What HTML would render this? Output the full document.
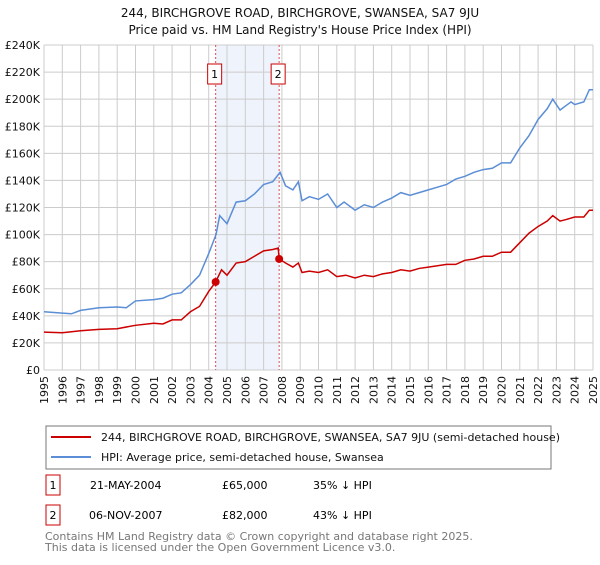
<!DOCTYPE html>
<html><head><meta charset="utf-8"><style>
body{margin:0;background:#fff;font-family:"Liberation Sans","DejaVu Sans",sans-serif;}
svg text{font-family:"DejaVu Sans","Liberation Sans",sans-serif;}
</style></head><body>
<svg id="chart" width="600" height="560" viewBox="0 0 600 560">
<text x="300" y="17" text-anchor="middle" font-size="12" fill="#111">244, BIRCHGROVE ROAD, BIRCHGROVE, SWANSEA, SA7 9JU</text>
<text x="300" y="34" text-anchor="middle" font-size="12" fill="#111">Price paid vs. HM Land Registry's House Price Index (HPI)</text>
<g id="grid"></g><g id="marks"></g><g id="axes"></g>
<rect x="46" y="426" width="505" height="43" fill="none" stroke="#777"/>
<line x1="51" y1="437" x2="91" y2="437" stroke="#cc0000" stroke-width="2"/>
<text x="101" y="441" font-size="11" fill="#111">244, BIRCHGROVE ROAD, BIRCHGROVE, SWANSEA, SA7 9JU (semi-detached house)</text>
<line x1="51" y1="457" x2="91" y2="457" stroke="#5b8ed6" stroke-width="2"/>
<text x="101" y="461" font-size="11" fill="#111">HPI: Average price, semi-detached house, Swansea</text>
<rect x="46" y="475" width="14" height="20" fill="none" stroke="#cc0000"/>
<text x="53" y="489" font-size="11" text-anchor="middle">1</text>
<text x="90" y="489" font-size="11">21-MAY-2004</text>
<text x="222" y="489" font-size="11">£65,000</text>
<text x="313" y="489" font-size="11">35% ↓ HPI</text>
<rect x="46" y="505" width="14" height="20" fill="none" stroke="#cc0000"/>
<text x="53" y="519" font-size="11" text-anchor="middle">2</text>
<text x="89" y="519" font-size="11">06-NOV-2007</text>
<text x="222" y="519" font-size="11">£82,000</text>
<text x="313" y="519" font-size="11">43% ↓ HPI</text>
<text x="45" y="540" font-size="11" fill="#777">Contains HM Land Registry data © Crown copyright and database right 2025.</text>
<text x="45" y="551" font-size="11" fill="#777">This data is licensed under the Open Government Licence v3.0.</text>
</svg>
<script>
const hpiYears=[1995,1996,1996.5,1997,1998,1999,1999.5,2000,2001,2001.5,2002,2002.5,2003,2003.5,2004,2004.4,2004.6,2005,2005.5,2006,2006.5,2007,2007.5,2007.9,2008.2,2008.6,2008.9,2009.1,2009.5,2010,2010.5,2011,2011.4,2012,2012.5,2013,2013.5,2014,2014.5,2015,2015.5,2016,2016.5,2017,2017.5,2018,2018.5,2019,2019.5,2020,2020.5,2021,2021.5,2022,2022.5,2022.8,2023.2,2023.5,2023.8,2024,2024.5,2024.8,2025];
const hpiValues=[43,42,41.5,44,46,46.5,46,51,52,53,56,57,63,70,86,100,114,108,124,125,130,137,139,146,136,133,139,125,128,126,130,120,124,118,122,120,124,127,131,129,131,133,135,137,141,143,146,148,149,153,153,164,173,185,193,200,192,195,198,196,198,207,207];
const priceYears=[1995,1996,1997,1998,1999,2000,2001,2001.5,2002,2002.5,2003,2003.5,2004,2004.38,2004.7,2005,2005.5,2006,2006.5,2007,2007.5,2007.8,2007.85,2008.2,2008.6,2008.9,2009.1,2009.5,2010,2010.5,2011,2011.5,2012,2012.5,2013,2013.5,2014,2014.5,2015,2015.5,2016,2017,2017.5,2018,2018.5,2019,2019.5,2020,2020.5,2021,2021.5,2022,2022.5,2022.8,2023.2,2023.5,2024,2024.5,2024.8,2025];
const priceValues=[28,27.5,29,30,30.5,33,34.5,34,37,37,43,47,58,65,74,70,79,80,84,88,89,90,82,79,76,79,72,73,72,74,69,70,68,70,69,71,72,74,73,75,76,78,78,81,82,84,84,87,87,94,101,106,110,114,110,111,113,113,118,118];
const saleYears=[2004.38,2007.85];
const saleValues=[65,82];
const saleLabels=["1","2"];
const yTicks=[0,20,40,60,80,100,120,140,160,180,200,220,240];
const xTicks=[1995,1996,1997,1998,1999,2000,2001,2002,2003,2004,2005,2006,2007,2008,2009,2010,2011,2012,2013,2014,2015,2016,2017,2018,2019,2020,2021,2022,2023,2024,2025];
const NS="http://www.w3.org/2000/svg";
const X0=44,X1=593,Y0=370,Y1=45;
const xs=y=>X0+(y-1995)/30*(X1-X0);
const ys=v=>Y0-v/240*(Y0-Y1);
function mk(t,a,p){const e=document.createElementNS(NS,t);for(const k in a)e.setAttribute(k,a[k]);p.appendChild(e);return e;}
const grid=document.getElementById('grid'),marks=document.getElementById('marks'),axes=document.getElementById('axes');
const sh=mk('rect',{x:xs(saleYears[0]),y:Y1,width:xs(saleYears[1])-xs(saleYears[0]),height:Y0-Y1,fill:'#eef3fc'},grid);


yTicks.forEach(v=>{
 const l=mk('line',{x1:X0,x2:X1,y1:ys(v),y2:ys(v),stroke:'#ccc'},grid);
 
 
 const t=mk('text',{x:X0-4,y:ys(v)+4,'text-anchor':'end','font-size':11,fill:'#111'},axes);
 t.textContent=v===0?'£0':'£'+v+'K';
 
 
});
xTicks.forEach(yr=>{
 const l=mk('line',{x1:xs(yr),x2:xs(yr),y1:Y1,y2:Y0,stroke:'#ccc'},grid);
 
 
 const t=mk('text',{x:0,y:0,'text-anchor':'end','font-size':11,fill:'#111',transform:`translate(${xs(yr)+4},${Y0+6}) rotate(-90)`},axes);
 t.textContent=yr;
 
 
});
saleYears.forEach((yr,i)=>{
 const l=mk('line',{x1:xs(yr),x2:xs(yr),y1:Y1,y2:Y0,stroke:'#e05050','stroke-dasharray':'2,2'},marks);
 
 
 const r=mk('rect',{x:xs(yr)-8,y:64,width:14,height:20,fill:'#fff',stroke:'#cc0000'},marks);
 
 
 const t=mk('text',{x:xs(yr)-1,y:78,'text-anchor':'middle','font-size':11},marks);
 t.textContent=saleLabels[i];
 
 
});
const hp=mk('polyline',{points:hpiYears.map((y,i)=>xs(y)+','+ys(hpiValues[i])).join(' '),fill:'none',stroke:'#5b8ed6','stroke-width':1.5},marks);


const pp=mk('polyline',{points:priceYears.map((y,i)=>xs(y)+','+ys(priceValues[i])).join(' '),fill:'none',stroke:'#cc0000','stroke-width':1.5},marks);


saleYears.forEach((yr,i)=>{
 const c=mk('circle',{cx:xs(yr),cy:ys(saleValues[i]),r:4,fill:'#cc0000'},marks);
 
 
});
</script>
</body></html>
